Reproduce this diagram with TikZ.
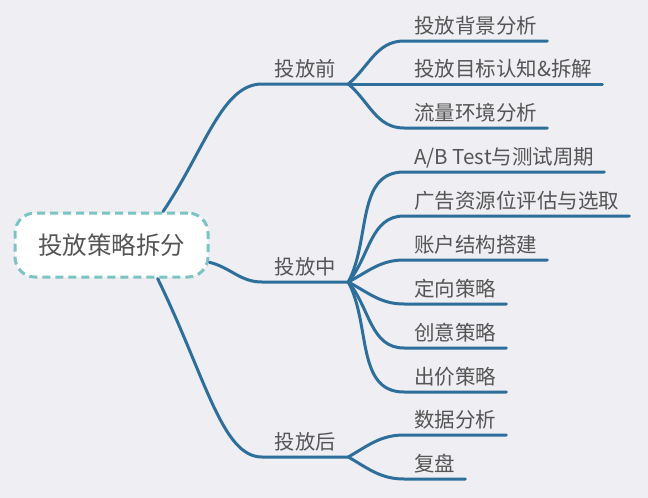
\documentclass[tikz,border=0pt]{standalone}
\usepackage{fontspec}
\newfontfamily\cjk{Noto Sans CJK SC}
\definecolor{greinfarge}{HTML}{2D6E9B}
\definecolor{rammefarge}{HTML}{7CC4C4}
\definecolor{bakgrunn}{HTML}{EEEEF3}
\definecolor{tekstfarge}{HTML}{555555}
\tikzset{
  grein/.style={line width=3pt, draw=greinfarge, line cap=round},
  rot/.style={draw=rammefarge, fill=white, line width=3pt, dash pattern=on 8pt off 5pt,
    rounded corners=20pt, minimum width=193pt, minimum height=64pt,
    font=\cjk\fontsize{24.5pt}{28pt}\selectfont, text=tekstfarge},
  hoved/.style={anchor=south west, inner xsep=12.5pt, inner ysep=7pt, text depth=0pt,
    font=\cjk\fontsize{20.3pt}{24pt}\selectfont, text=tekstfarge},
  blad/.style={anchor=south west, inner xsep=10pt, inner ysep=7.5pt, text depth=0pt,
    font=\cjk\fontsize{20.5pt}{24pt}\selectfont, text=tekstfarge}
}
\begin{document}
\begin{tikzpicture}[x=1pt, y=-1pt]
  % bakgrunn og ramme for bildet
  \fill[bakgrunn] (0,0) rectangle (648,498);
  \useasboundingbox (0,0) rectangle (648,498);

  % rotnode og de tre hovedgreinene (y peker nedover, så vinklene i kontrollpunktene er speilet)
  \node[rot] (rot) at (111.5,245) {投放策略拆分};
  \node[hoved] (foer) at (262,84) {投放前};
  \node[hoved] (under) at (262,282) {投放中};
  \node[hoved] (etter) at (262,457) {投放后};

  \draw[grein] (rot.33) .. controls +(-56:75) and +(-40,0) .. (foer.south west) -- (foer.south east);
  \draw[grein] (rot.-10) to[out=-14,in=180] (under.south west) -- (under.south east);
  \draw[grein] (rot.-36) .. controls +(64:110) and +(-40,0) .. (etter.south west) -- (etter.south east);

  % blader under 投放前
  \foreach \navn/\yy/\ut/\txt in {bakgr/41/40/投放背景分析, maal/84/0/{投放目标认知\&拆解},
      flyt/128/-40/流量环境分析}{
    \node[blad] (\navn) at (404,\yy) {\txt};
    \draw[grein] (foer.south east) to[out=\ut,in=180] (\navn.south west) -- (\navn.south east);
  }

  % blader under 投放中
  \foreach \navn/\yy/\ut/\txt in {abtest/172/62/{A/B Test与测试周期}, annonse/216/50/广告资源位评估与选取,
      konto/260/28/账户结构搭建, retning/304/-28/定向策略, kreativ/348/-50/创意策略,
      bud/392/-62/出价策略}{
    \node[blad] (\navn) at (404,\yy) {\txt};
    \draw[grein] (under.south east) to[out=\ut,in=180] (\navn.south west) -- (\navn.south east);
  }

  % blader under 投放后
  \foreach \navn/\yy/\ut/\txt in {data/435/30/数据分析, gjennomgang/479/-30/复盘}{
    \node[blad] (\navn) at (404,\yy) {\txt};
    \draw[grein] (etter.south east) to[out=\ut,in=180] (\navn.south west) -- (\navn.south east);
  }
\end{tikzpicture}
\end{document}
